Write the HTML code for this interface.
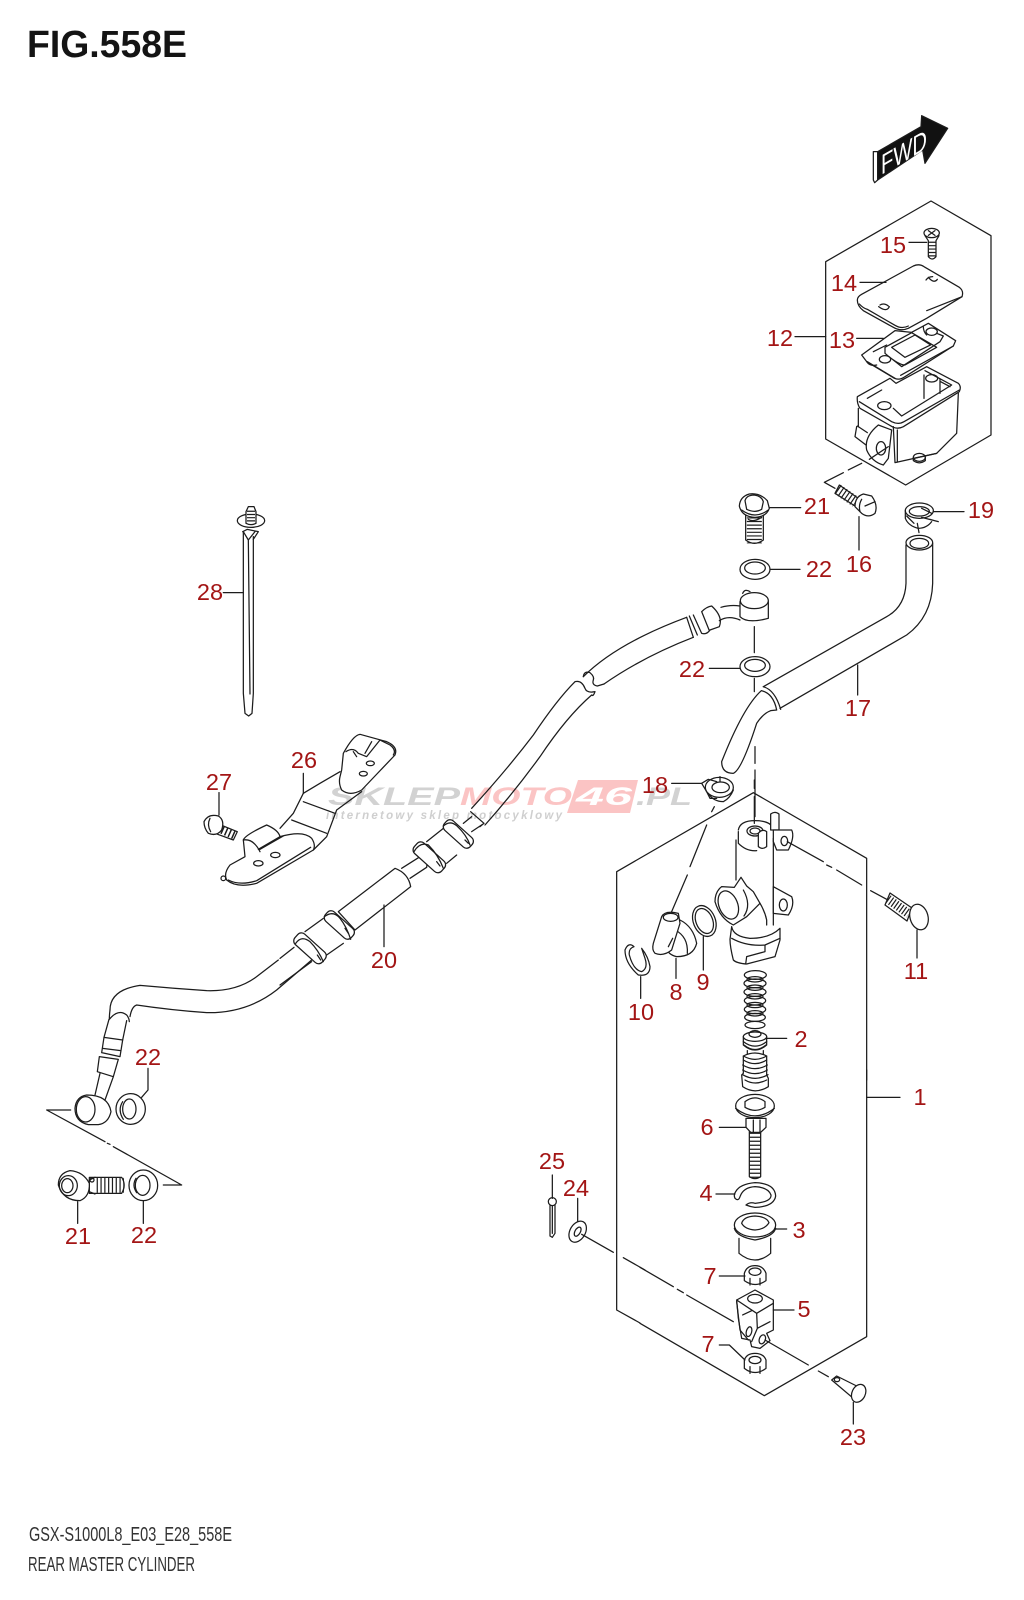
<!DOCTYPE html>
<html><head><meta charset="utf-8"><title>FIG.558E</title>
<style>
html,body{margin:0;padding:0;background:#fff}
svg{display:block}
.p *{vector-effect:non-scaling-stroke}
.p{fill:none;stroke:#1c1c1c;stroke-width:1.25;stroke-linecap:round;stroke-linejoin:round}
.w{fill:#fff}
.t{stroke-linecap:butt}
.l text{font-family:"Liberation Sans",sans-serif;font-size:23.5px;fill:#a31515;text-anchor:middle}
</style></head><body>
<svg width="1024" height="1600" viewBox="0 0 1024 1600" xmlns="http://www.w3.org/2000/svg">
<rect width="1024" height="1600" fill="#fff"/>

<!-- watermark -->
<polygon points="578,780 638,780 630,813 567,813" fill="#fbc4c4"/>
<g font-family="'Liberation Sans',sans-serif" font-weight="bold" font-style="italic">
<text x="328" y="805" font-size="25" fill="#d2d2d2" textLength="132" lengthAdjust="spacingAndGlyphs">SKLEP</text>
<text x="460" y="805" font-size="25" fill="#fbc4c4" textLength="112" lengthAdjust="spacingAndGlyphs">MOTO</text>
<text x="576" y="805" font-size="25" fill="#fff" textLength="56" lengthAdjust="spacingAndGlyphs">46</text>
<text x="636" y="805" font-size="25" fill="#d2d2d2" textLength="56" lengthAdjust="spacingAndGlyphs">.PL</text>
<text x="326" y="819" font-size="11.5" fill="#cfcfcf" textLength="236" lengthAdjust="spacing">internetowy sklep motocyklowy</text>
</g>

<!-- Z1: reservoir box -->
<g class="p" transform="translate(780 100) scale(.33333)">
<polygon points="453,303 633,407 633,1005 377,1155 137,1017 137,485"/>
<!-- FWD -->
<polygon points="280,155 293,155 293,240 284,248 280,240" fill="#fff"/>
<polygon points="293,155 423,80 425,47 503,85 435,190 428,150 293,240" fill="#111"/>
<!-- screw 15 -->
<ellipse cx="455" cy="399" rx="23" ry="14"/>
<path d="M435 407L445 422V470Q456 484 468 470V422L477 407"/>
<line class="t" x1="456" y1="425" x2="456" y2="474" stroke-width="7" stroke-dasharray="1.2 2.2"/>
<path d="M445 392L465 406M465 392L445 406"/>
<!-- lid 14 -->
<path class="w" d="M232 600Q232 590 245 583L400 498Q418 490 432 500L538 562Q552 572 546 590L440 655L385 685Q362 695 340 682L250 632Q232 618 232 600Z"/>
<path d="M238 612Q250 625 262 628L345 676Q365 688 385 678M440 632L546 590"/>
<path d="M445 532Q462 552 472 538M438 540Q445 530 458 530"/>
<path d="M296 620Q320 638 328 620M300 615Q312 608 325 618"/>
<!-- seal 13 -->
<path class="w" d="M245 765L345 692L395 697L445 670L527 722L520 738L375 830Q355 845 335 830L260 785Z"/>
<path d="M262 785L345 835M520 738L362 826"/>
<path d="M315 742L395 698L470 742L375 795Q355 795 315 760Z"/>
<path d="M335 742L405 705L452 735L375 772Z"/>
<path d="M280 755L320 735M340 780L365 800L480 725L490 708L470 700"/>
<ellipse cx="315" cy="778" rx="17" ry="11"/><ellipse cx="455" cy="695" rx="17" ry="11"/>
<path d="M430 680Q430 695 440 705M260 785Q270 800 290 795"/>
<!-- reservoir -->
<path class="w" d="M232 890L330 835L348 850L440 800L535 850Q545 860 538 875L370 980Q355 988 340 982L240 925Q230 910 232 890Z"/>
<path d="M238 905L335 965Q355 975 372 965L538 870"/>
<path d="M262 895L305 870M340 925L365 948L515 855L435 812"/>
<path d="M432 825V895M480 838V880M510 860L482 845"/>
<ellipse cx="313" cy="917" rx="20" ry="12"/><ellipse cx="455" cy="835" rx="18" ry="11"/>
<path d="M235 925V980M535 880L530 1000L470 1060L345 1088L340 980"/>
<path d="M352 1086L352 990M470 1060Q470 1060 400 1075"/>
<path d="M335 990L325 1075L310 1095Q275 1085 260 1050Q252 1010 295 975L335 990Z" class="w"/>
<ellipse cx="303" cy="1045" rx="14" ry="20"/>
<path d="M230 980L225 1010L258 1035M232 978L262 998"/>
<path d="M268 1078L325 1040"/>
<ellipse cx="418" cy="1072" rx="18" ry="12"/><path d="M400 1072V1082Q418 1095 436 1082V1072"/>
<!-- leaders -->
<path d="M387 427H440M240 547H318M230 715H310M45 710H137M245 1090L205 1110M190 1118L133 1147L165 1165"/>
</g>
<text transform="translate(881 175) skewY(-30)" x="0" y="0" font-family="'Liberation Sans',sans-serif" font-size="28" fill="#fff" textLength="46" lengthAdjust="spacingAndGlyphs">FWD</text>

<!-- Z6: upper hose, banjo, hose 17 -->
<g class="p" transform="translate(560 480) scale(.33333)">
<!-- bolt 21 -->
<path class="w" d="M557 105V180Q583 200 610 180V105Z"/>
<line class="t" x1="583" y1="112" x2="583" y2="190" stroke-width="15" stroke-dasharray="1.2 2.4"/>
<path class="w" d="M538 78Q540 50 568 42Q600 38 622 62L628 85Q620 110 585 112Q545 110 538 78Z"/>
<path d="M555 62Q560 45 583 45Q605 48 610 65L605 88Q585 100 560 88Z"/><path d="M545 90Q585 120 625 90"/>
<path d="M565 118Q580 128 605 112"/>
<!-- washer 22 upper -->
<ellipse cx="585" cy="268" rx="45" ry="30"/><ellipse cx="585" cy="264" rx="31" ry="18"/>
<!-- washer 22 lower -->
<ellipse cx="585" cy="560" rx="45" ry="30"/><ellipse cx="585" cy="556" rx="31" ry="18"/>
<!-- banjo -->
<path d="M540 365V410Q562 432 625 415V365"/>
<ellipse class="w" cx="583" cy="362" rx="42" ry="24"/>
<path d="M548 340Q555 325 570 335"/>
<path d="M483 382Q510 374 540 378M478 422Q505 405 540 420"/>
<!-- left tube upper -->
<path d="M70 590Q170 490 380 412M132 612Q250 530 400 472"/>
<path d="M70 590Q72 572 90 578Q104 590 100 600Q95 615 112 618L132 612"/>
<path d="M380 412L400 472M388 408L412 465M400 405L425 460Q440 465 450 450M425 395Q440 380 455 378Q490 410 478 440L450 450M425 395L448 452"/>
<!-- hose 17 -->
<ellipse cx="1078" cy="188" rx="40" ry="22"/><ellipse cx="1078" cy="190" rx="28" ry="15"/>
<path d="M1038 195V310Q1035 380 980 410L610 620M1118 190V310Q1115 410 1040 465L660 685"/>
<path d="M610 620Q645 630 662 688M604 632Q640 640 650 690L632 692M604 632Q550 680 485 845Q485 880 520 880Q545 870 590 730Q610 700 632 692"/>
<!-- bolt 16 -->
<path class="w" d="M838 15L895 55L885 78L825 40Z"/>
<line class="t" x1="833" y1="28" x2="888" y2="66" stroke-width="11" stroke-dasharray="1.2 2.4"/>
<path class="w" d="M885 80Q885 50 910 42L935 48Q955 75 945 100Q925 115 905 100Z"/>
<path d="M915 78L945 65M905 58Q895 75 900 95"/>
<!-- clamp 19 -->
<path d="M1036 92V115Q1045 138 1075 145Q1100 145 1115 125M1085 112L1135 125L1110 118M1072 130L1077 158M1040 108L1062 130"/>
<ellipse cx="1078" cy="92" rx="42" ry="23"/>
<ellipse cx="1078" cy="94" rx="30" ry="14"/>
<path d="M1085 85L1115 100"/>
<!-- clamp 18 -->
<path d="M445 940Q460 965 490 965Q510 955 520 930"/>
<ellipse cx="478" cy="922" rx="42" ry="30"/>
<ellipse cx="482" cy="922" rx="26" ry="16"/>
<path d="M425 910L445 898L470 905M425 910L440 935L450 955L470 955M480 890V905"/>
<!-- leaders -->
<path d="M628 83H722M630 268H720M448 565H540M897 110V210M893 555V645M335 910H425M583 440V518M583 595V635M585 800V850M585 870V1010M1120 95H1212"/>
</g>

<!-- Z7: main hose -->
<g class="p" transform="translate(280 660) scale(.33333)">
<path d="M575 445Q680 330 760 225Q830 120 885 65Q905 60 915 85Q920 100 945 95Q940 110 935 105Q860 170 780 290Q700 400 615 495"/>
<path d="M572 455L612 490L600 500M550 490L575 470M575 515L612 490"/>
<!-- rings and tube -->
<path d="M42 862L0 895M95 905L0 975"/>
<path d="M75 815L130 775M140 885L190 850"/>
<path d="M440 545L490 505M500 610L530 585"/>
<path d="M365 625L420 590M390 655L440 622M420 590Q445 595 440 622"/>
<rect class="w" x="-52" y="-19" width="104" height="38" rx="15" transform="translate(535 522) rotate(42)"/>
<path d="M490 498Q510 480 530 497Q560 525 570 555"/>
<rect class="w" x="-55" y="-21" width="110" height="42" rx="15" transform="translate(448 592) rotate(42)"/>
<path d="M402 575Q420 545 445 555Q475 585 490 625"/>
<path class="w" d="M175 755L345 625Q385 640 392 680L225 810Z"/>
<rect class="w" x="-52" y="-19" width="104" height="38" rx="15" transform="translate(178 795) rotate(42)"/>
<path d="M133 770Q160 750 180 775Q200 800 212 838"/>
<rect class="w" x="-55" y="-21" width="110" height="42" rx="15" transform="translate(90 865) rotate(42)"/>
<path d="M47 850Q65 825 90 845Q115 870 130 905"/>
<path d="M112 885L122 900M195 805L205 820M470 605L480 618M555 540L565 550"/>
<path d="M312 735V860"/>
</g>

<!-- Z4: lower left -->
<g class="p" transform="translate(30 960) scale(.33333)">
<path d="M240 150Q240 90 330 76Q430 85 530 92Q620 95 680 50L745 0M300 170Q305 140 320 135Q420 150 530 158Q650 160 740 90L845 0"/>
<path d="M240 150Q238 165 238 178Q265 145 290 165Q298 175 298 185"/>
<path d="M237 178L222 232M290 182L278 240"/>
<path d="M222 232L278 240L270 290L215 278ZM208 290L265 298L250 350L202 335Z"/>
<path d="M218 265L272 272"/>
<path d="M210 340L195 405M250 350L225 420"/>
<path class="w" d="M170 405Q235 405 243 455Q235 490 205 494H175Q135 485 135 445Q138 410 170 405Z"/>
<ellipse cx="167" cy="448" rx="28" ry="38"/>
<ellipse class="w" cx="302" cy="447" rx="44" ry="46"/><ellipse cx="298" cy="447" rx="20" ry="30"/>
<path d="M278 425Q262 450 280 478"/>
<path d="M354 325V390L335 412M122 450H50L225 545M232 550L240 553M250 560L455 675H400M143 725V790M340 720V790"/>
<!-- bolt 21 -->
<path class="w" d="M178 652H275Q290 675 275 700H178Z"/>
<line class="t" x1="200" y1="676" x2="282" y2="676" stroke-width="15" stroke-dasharray="1.2 2.6"/>
<path class="w" d="M85 675Q85 640 120 632Q160 635 178 670Q180 710 150 722Q100 722 85 675Z"/>
<ellipse cx="115" cy="677" rx="27" ry="30"/><ellipse cx="112" cy="677" rx="17" ry="21"/>
<path d="M178 660L195 652M178 695L195 702"/>
<ellipse cx="186" cy="660" rx="6" ry="6"/>
<ellipse class="w" cx="340" cy="676" rx="43" ry="46"/><ellipse cx="338" cy="676" rx="22" ry="30"/>
<path d="M318 655Q305 676 320 698"/>
</g>

<!-- Z5: tie + bracket -->
<g class="p" transform="translate(190 490) scale(.33333)">
<path d="M160 125V610L165 670L176 678L186 670L190 610V140"/>
<path d="M175 150L180 612M160 125L175 150L195 125"/>
<path d="M158 125L172 118L205 125L190 148"/>
<ellipse cx="183" cy="92" rx="41" ry="20"/>
<path class="w" d="M168 65L175 50H192L198 65V100Q183 108 168 100Z"/>
<line class="t" x1="183" y1="62" x2="183" y2="100" stroke-width="8" stroke-dasharray="1.2 2"/>
<path d="M100 308H160"/>
<!-- bracket -->
<path d="M450 845L390 880L340 910L310 970L270 1015M515 905L440 960L410 1040L370 1080"/>
<path d="M340 935L435 970M305 990L410 1030M340 850V910"/>
<path class="w" d="M455 840L460 790Q490 735 510 733L590 755Q625 770 615 795L515 900Q480 920 455 900Q445 880 450 860Z"/>
<path d="M468 785Q490 770 505 790L530 800L570 750M545 755L525 790M570 750L600 765Q620 780 610 795M490 785L500 800"/>
<ellipse cx="541" cy="820" rx="12" ry="7"/><ellipse cx="520" cy="851" rx="12" ry="7"/>
<path class="w" d="M370 1080L200 1180Q140 1195 110 1170Q100 1150 120 1125L165 1100L160 1050Q165 1035 230 1005Q265 1020 270 1040Q340 1020 365 1045Q378 1065 370 1080Z"/>
<path d="M210 1078L280 1038M160 1050Q190 1045 210 1085M115 1170Q150 1188 200 1172L362 1072M270 1040L205 1078"/>
<ellipse cx="205" cy="1120" rx="14" ry="8"/><ellipse cx="256" cy="1095" rx="14" ry="8"/>
<circle cx="100" cy="1165" r="7"/>
<!-- bolt 27 -->
<path class="w" d="M85 1002L142 1025L130 1050L75 1030Z"/>
<line class="t" x1="85" y1="1015" x2="135" y2="1037" stroke-width="8" stroke-dasharray="1.5 2.4"/>
<path class="w" d="M42 995Q55 970 85 978Q105 990 95 1020Q80 1040 55 1030Q42 1015 42 995Z"/>
<path d="M60 985Q50 1005 62 1025"/>
<path d="M87 908V975"/>
</g>

<!-- Z2: master cylinder -->
<g class="p" transform="translate(600 780) scale(.33333)">
<path d="M120 1629L50 1590V275L460 38L800 235V900"/>
<path d="M463 0V25M463 50V130M343 80L335 95M320 135L270 260M262 285L215 395"/>
<path d="M408 180V300M520 175V435"/>
<path d="M415 150Q420 122 465 122Q510 122 520 145M415 155V190Q440 215 470 212"/>
<ellipse cx="465" cy="153" rx="24" ry="15"/><ellipse cx="465" cy="153" rx="15" ry="9"/>
<path class="w" d="M475 160Q487 145 500 155V200Q487 210 475 200Z"/>
<path class="w" d="M512 102Q525 92 537 102V150H512Z"/>
<path class="w" d="M520 150L575 150Q585 170 565 210H530L520 185Z"/>
<ellipse cx="553" cy="183" rx="10" ry="14"/>
<path d="M562 185L670 245M680 255L695 262M710 270L785 315M812 332L860 358"/>
<path class="w" d="M520 320L575 350Q585 375 565 405L520 400Z"/>
<ellipse cx="550" cy="375" rx="12" ry="18"/>
<path class="w" d="M365 320L403 322L423 292L440 318L460 335L480 370L440 410L400 435Q360 415 345 365Q345 335 365 320Z"/>
<ellipse cx="385" cy="375" rx="28" ry="44" transform="rotate(-22 385 375)"/>
<path d="M430 330Q455 375 432 408"/>
<path d="M480 370Q495 395 500 420V435"/>
<path class="w" d="M395 440Q400 470 450 475Q510 475 540 445V480L525 530L440 552Q410 550 400 540Q390 500 390 478Z"/>
<path d="M395 475Q440 500 495 495L540 475M440 530L437 552M495 495L495 515L440 530"/>
<!-- 8 9 10 -->
<path class="w" d="M240 420Q280 440 290 490Q280 530 230 530Q205 525 195 500Z"/>
<path d="M225 450Q265 470 262 520"/>
<path class="w" d="M185 410Q195 390 235 400L240 430L215 510Q190 530 165 520Q155 510 160 490Z"/>
<ellipse cx="212" cy="412" rx="22" ry="12"/><path d="M218 475L205 500"/>
<ellipse cx="313" cy="423" rx="33" ry="48" transform="rotate(-22 313 423)"/>
<ellipse cx="313" cy="423" rx="25" ry="39" transform="rotate(-22 313 423)"/>
<path d="M102 500Q85 485 75 510Q75 550 115 585Q150 590 150 560Q145 530 125 505L135 535Q145 565 125 575Q100 570 88 525Q85 505 102 500Z"/>
<path d="M228 535V595M310 470V570M122 590V655"/>
<!-- spring -->
<g>
<ellipse cx="466" cy="585" rx="33" ry="13"/><ellipse cx="465" cy="610" rx="33" ry="13"/><ellipse cx="465" cy="636" rx="33" ry="13"/><ellipse cx="465" cy="662" rx="32" ry="13"/><ellipse cx="465" cy="688" rx="32" ry="13"/><ellipse cx="465" cy="712" rx="31" ry="12"/><ellipse cx="465" cy="735" rx="30" ry="11"/>
<ellipse cx="465" cy="598" rx="24" ry="8"/><ellipse cx="465" cy="623" rx="24" ry="8"/><ellipse cx="465" cy="649" rx="24" ry="8"/><ellipse cx="465" cy="675" rx="24" ry="8"/><ellipse cx="465" cy="700" rx="24" ry="8"/>
</g>
</g>

<!-- Z12: piston -->
<g class="p" transform="translate(700 980) scale(.33333)">
<path class="w" d="M130 170V195Q165 225 200 195V170Z"/>
<ellipse class="w" cx="165" cy="170" rx="35" ry="14"/>
<ellipse cx="165" cy="162" rx="18" ry="10"/>
<path d="M130 185Q165 212 200 185M132 195Q165 222 198 195"/>
<path d="M142 212V232M190 212V232"/>
<path class="w" d="M130 228Q165 210 200 228V285L205 295V320Q165 345 128 320L125 285L130 280Z"/>
<path d="M130 240Q165 262 200 240M128 255Q165 277 202 255M128 270Q165 292 202 270M128 284Q165 306 204 284M135 300Q165 318 200 300M130 228Q165 248 200 228"/>
<path d="M200 175H260"/>
</g>

<!-- Z3: lower stack -->
<g class="p" transform="translate(640 1070) scale(.33333)">
<path d="M680 0V800L373 977L0 760"/>
<path d="M0 592L100 650M112 658L130 668M140 675L280 755M680 82H780"/>
<!-- 6 -->
<path class="w" d="M328 185H362V320Q345 332 328 320Z"/>
<line class="t" x1="345" y1="188" x2="345" y2="325" stroke-width="11" stroke-dasharray="1.2 2.8"/>
<path class="w" d="M318 145H378V172L362 187H332L318 172Z"/>
<path d="M340 150V187M360 150V187"/>
<ellipse class="w" cx="345" cy="108" rx="58" ry="35"/>
<path d="M287 115Q345 160 403 115"/>
<path d="M315 108V95Q345 72 375 95V112Q345 130 315 112Z"/>
<path d="M238 172H318"/>
<!-- 4 -->
<path d="M287 365Q300 342 345 338Q405 340 407 378Q402 410 345 412Q330 410 318 405Q330 395 345 400Q395 395 393 375Q385 352 345 350Q310 352 300 380Q295 395 285 385Q280 375 287 365Z"/>
<path d="M228 372H285"/>
<!-- 3 -->
<path d="M297 505V550Q345 590 392 550V505"/>
<ellipse class="w" cx="345" cy="465" rx="62" ry="36"/>
<path d="M283 475Q290 500 345 510Q400 500 407 475"/>
<path d="M305 460Q310 440 345 438Q380 440 387 458Q375 478 345 480Q315 478 305 460Z"/>
<path d="M408 477H440"/>
<!-- 7 top -->
<path class="w" d="M313 610Q320 587 345 587Q370 587 378 610V632Q345 655 313 632Z"/>
<ellipse cx="345" cy="605" rx="18" ry="11"/>
<path d="M330 625V645M360 625V645M238 618H315"/>
<!-- 5 -->
<path class="w" d="M290 690L345 660L400 690V780L380 790L390 812L360 835L335 830L330 810L305 805L295 745Z"/>
<path d="M290 690L350 730L400 700M290 695L300 780L325 810M350 730L352 775L335 815M352 775L390 755"/>
<ellipse cx="345" cy="686" rx="22" ry="13"/>
<ellipse cx="327" cy="785" rx="8" ry="15" transform="rotate(15 327 785)"/>
<ellipse cx="367" cy="808" rx="9" ry="14" transform="rotate(20 367 808)"/>
<path d="M308 735L335 722M400 720H462"/>
<path d="M375 810L505 885M535 903L565 920"/>
<!-- 7 low -->
<path class="w" d="M313 870Q320 850 345 850Q370 850 378 870V895Q345 920 313 895Z"/>
<ellipse cx="345" cy="870" rx="18" ry="11"/>
<path d="M330 890V910M360 890V910M238 825H268L315 870"/>
<!-- 23 -->
<path class="w" d="M575 930L590 918L650 948L640 985Z"/>
<ellipse cx="591" cy="929" rx="8" ry="6"/>
<ellipse class="w" cx="656" cy="970" rx="20" ry="28" transform="rotate(25 656 970)"/>
<path d="M640 997V1062"/>
</g>

<!-- Z11: 24,25 -->
<g class="p" transform="translate(520 1130) scale(.33333)">
<path d="M97 135V205M173 205V275M185 313L280 367M310 383L375 420"/>
<circle cx="97" cy="215" r="12"/>
<path d="M90 226V318L97 322L105 310V226M97 228V310"/>
<ellipse cx="173" cy="305" rx="23" ry="34" transform="rotate(30 173 305)"/>
<ellipse cx="173" cy="305" rx="8" ry="15" transform="rotate(30 173 305)"/>
</g>

<!-- screw 11 -->
<g class="p" transform="translate(-3 -4)">
<path class="w" d="M893 897L915 912L910 925L888 909Z"/>
<line class="t" x1="891" y1="903" x2="912" y2="918" stroke-width="9" stroke-dasharray="1.2 2"/>
<ellipse class="w" cx="922" cy="921" rx="9" ry="13" transform="rotate(-15 922 921)"/>
<path d="M920 934V962"/>
</g>

<!-- labels -->
<g class="l">
<text x="893" y="253">15</text><text x="844" y="291">14</text><text x="842" y="348">13</text><text x="780" y="346">12</text>
<text x="817" y="514">21</text><text x="981" y="518">19</text><text x="819" y="577">22</text><text x="859" y="572">16</text>
<text x="858" y="716">17</text><text x="692" y="677">22</text><text x="655" y="793">18</text><text x="210" y="600">28</text>
<text x="304" y="768">26</text><text x="219" y="790">27</text><text x="384" y="968">20</text><text x="676" y="1000">8</text>
<text x="703" y="990">9</text><text x="641" y="1020">10</text><text x="916" y="979">11</text><text x="801" y="1047">2</text>
<text x="920" y="1105">1</text><text x="707" y="1135">6</text><text x="706" y="1201">4</text><text x="799" y="1238">3</text>
<text x="710" y="1284">7</text><text x="804" y="1317">5</text><text x="708" y="1352">7</text><text x="853" y="1445">23</text>
<text x="148" y="1065">22</text><text x="78" y="1244">21</text><text x="144" y="1243">22</text>
<text x="552" y="1169">25</text><text x="576" y="1196">24</text>
</g>

<!-- title & footer -->
<text x="27" y="57" font-family="'Liberation Sans',sans-serif" font-weight="bold" font-size="38" fill="#141414" textLength="160" lengthAdjust="spacingAndGlyphs">FIG.558E</text>
<text x="29" y="1541" font-family="'Liberation Sans',sans-serif" font-size="20" fill="#333" textLength="203" lengthAdjust="spacingAndGlyphs">GSX-S1000L8_E03_E28_558E</text>
<text x="28" y="1571" font-family="'Liberation Sans',sans-serif" font-size="20" fill="#333" textLength="167" lengthAdjust="spacingAndGlyphs">REAR MASTER CYLINDER</text>
</svg>
</body></html>
